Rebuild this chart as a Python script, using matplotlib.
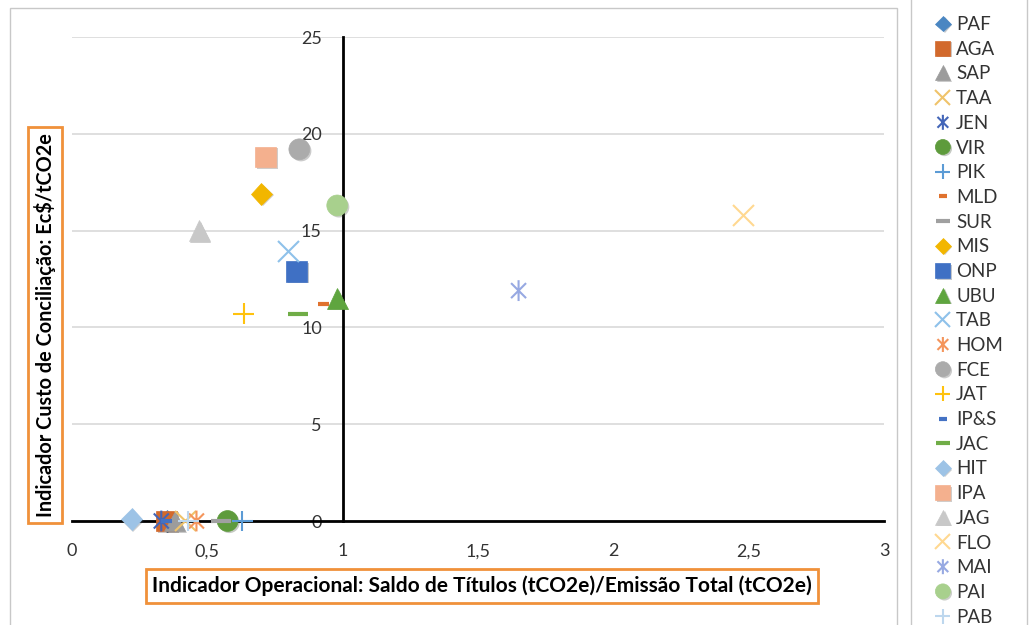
import matplotlib
matplotlib.use('Agg')
import matplotlib.pyplot as plt
from matplotlib.path import Path
from matplotlib.patches import Rectangle
import matplotlib.patheffects as pe

plt.rcParams['font.family'] = ['Lato', 'DejaVu Sans']

# data
names = ['PAF', 'AGA', 'SAP', 'TAA', 'JEN', 'VIR', 'PIK', 'MLD', 'SUR', 'MIS',
         'ONP', 'UBU', 'TAB', 'HOM', 'FCE', 'JAT', 'IP&S', 'JAC', 'HIT', 'IPA',
         'JAG', 'FLO', 'MAI', 'PAI', 'PAB']
x_vals = [0.35, 0.35, 0.38, 0.42, 0.33, 0.575, 0.63, 0.93, 0.55, 0.70,
          0.83, 0.98, 0.80, 0.46, 0.84, 0.635, 0.35, 0.835, 0.22, 0.715,
          0.47, 2.48, 1.65, 0.98, 0.43]
y_vals = [0, 0, 0, 0, 0, 0, 0, 11.2, 0, 16.9,
          12.9, 11.5, 13.9, 0, 19.2, 10.7, 0, 10.7, 0.1, 18.8,
          15.0, 15.8, 11.9, 16.3, 0]

x_ticks = [0, 0.5, 1, 1.5, 2, 2.5, 3]
x_tick_labels = ['0', '0,5', '1', '1,5', '2', '2,5', '3']
y_ticks = [0, 5, 10, 15, 20, 25]

# styles (Excel marker / colour cycle)
star = Path([(0, -1), (0, 1), (-0.72, -0.72), (0.72, 0.72), (-0.72, 0.72), (0.72, -0.72)],
            [Path.MOVETO, Path.LINETO, Path.MOVETO, Path.LINETO, Path.MOVETO, Path.LINETO])
colors = ['#4A86C2', '#D2692C', '#9C9C9C', '#EFC36A', '#4466B8', '#5E9B3C', '#5B9BD5',
          '#E0722E', '#A0A0A0', '#F2B600', '#3F70C4', '#5FA53F', '#8EC1EA', '#F4955C',
          '#ABABAB', '#FFC20E', '#4472C4', '#70AD47', '#9DC3E6', '#F4B08E', '#C8C8C8',
          '#FFD890', '#97A9E2', '#A8D08D', '#BDD7EE']
# Excel cycle: diamond, square, triangle, x, star, circle, plus, short dash, long dash
marker_cycle = ['D', 's', '^', 'x', star, 'o', '+', '_', '_']
size_cycle = [11, 15, 15, 15, 15, 15, 15, 8, 14]
mew_cycle = [0.5, 0.5, 0.5, 1.5, 1.5, 0.5, 1.5, 3, 3]

fig = plt.figure(figsize=(10.31, 6.25), dpi=100)
ax = fig.add_axes([0.0698, 0.1664, 0.7876, 0.7744])

shadow = [pe.SimplePatchShadow(offset=(1.2, -1.2), alpha=0.25), pe.Normal()]
for i, name in enumerate(names):
    idx = i % 9
    ax.plot(x_vals[i], y_vals[i], linestyle='none', marker=marker_cycle[idx], color=colors[i],
            markersize=size_cycle[idx], markeredgewidth=mew_cycle[idx],
            markeredgecolor=colors[i], label=name, path_effects=shadow, zorder=3, clip_on=False)

ax.set_xlim(0, 3)
ax.set_ylim(0, 25)
ax.spines['left'].set_position(('data', 1))
ax.spines['bottom'].set_position(('data', 0))
ax.spines['right'].set_visible(False)
ax.spines['top'].set_visible(False)
for s in ['left', 'bottom']:
    ax.spines[s].set_linewidth(2)
    ax.spines[s].set_color('black')
    ax.spines[s].set_zorder(2)
ax.set_xticks(x_ticks)
ax.set_xticklabels(x_tick_labels)
ax.set_yticks(y_ticks)
ax.tick_params(axis='x', length=0, pad=16, labelsize=13, labelcolor='#333333')
ax.tick_params(axis='y', length=0, pad=15, labelsize=13, labelcolor='#333333')
ax.grid(axis='y', color='#D9D9D9', linewidth=1.2)
ax.set_axisbelow(True)

box = dict(boxstyle='square,pad=0.3', facecolor='white', edgecolor='#F0913A', linewidth=2)
fig.text(0.4675, 0.0624, 'Indicador Operacional: Saldo de Títulos (tCO2e)/Emissão Total (tCO2e)',
         ha='center', va='center', fontsize=15, fontweight='bold', color='black', bbox=box)
fig.text(0.0436, 0.48, 'Indicador Custo de Conciliação: Ec$/tCO2e', rotation=90,
         ha='center', va='center', fontsize=14.3, fontweight='bold', color='black', bbox=box)

# chart area outline and legend outline (both run past the image edge)
fig.patches.append(Rectangle((10 / 1031, -0.05), 887 / 1031, 1.05 - 8 / 625,
                             transform=fig.transFigure, fill=False, edgecolor='#C8C8C8', linewidth=1))
fig.patches.append(Rectangle((911 / 1031, -0.05), 116 / 1031, 1.1,
                             transform=fig.transFigure, fill=False, edgecolor='#C8C8C8', linewidth=1))

leg = ax.legend(loc='upper left', bbox_to_anchor=(911 / 1031, 1.0072), bbox_transform=fig.transFigure,
                fontsize=13.5, frameon=False,
                handlelength=1.2, handletextpad=0.1, labelspacing=0.41, borderpad=1.1,
                markerscale=0.72, borderaxespad=0)
for t in leg.get_texts():
    t.set_color('#333333')

fig.savefig('out.png', dpi=100)
